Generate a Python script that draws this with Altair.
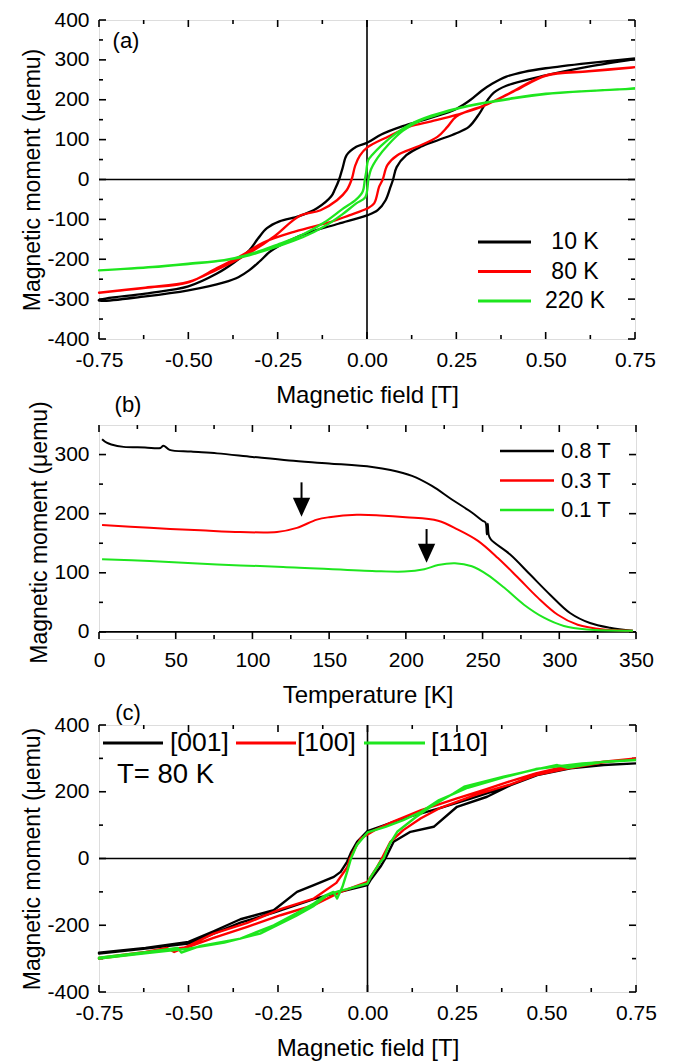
import altair as alt
import pandas as pd

FONT = "Liberation Sans"
BLACK, RED, GREEN = "#000000", "#ff0000", "#1ee61e"

# ---------------- panel (a): hysteresis at three temperatures ----------------
A_NAMES = ["10 K", "80 K", "220 K"]
A_COLORS = [BLACK, RED, GREEN]

A10_DESC_H = [0.75, 0.62, 0.5, 0.44, 0.39, 0.35, 0.32, 0.29, 0.25, 0.18, 0.1, 0.04, 0, -0.03, -0.057, -0.068,
              -0.078, -0.09, -0.1, -0.14, -0.19, -0.245, -0.28, -0.305, -0.33, -0.37, -0.42, -0.5, -0.62, -0.75]
A10_DESC_M = [304, 292, 279, 270, 258, 240, 222, 200, 177, 155, 134, 113, 92, 82, 61, 30,
              0, -25, -42, -72, -92, -105, -122, -148, -178, -207, -236, -268, -286, -302]
A10_ASC_H = [-0.75, -0.62, -0.5, -0.4, -0.36, -0.33, -0.3, -0.27, -0.22, -0.16, -0.08, 0, 0.03, 0.052, 0.066,
             0.073, 0.083, 0.11, 0.15, 0.2, 0.25, 0.285, 0.315, 0.338, 0.355, 0.39, 0.5, 0.62, 0.75]
A10_ASC_M = [-304, -293, -278, -258, -245, -228, -205, -180, -154, -132, -111, -90, -77, -52, -18,
             0, 31, 61, 82, 99, 116, 132, 166, 200, 218, 235, 261, 283, 302]

A80_DESC_H = [0.75, 0.62, 0.5, 0.4, 0.32, 0.25, 0.18, 0.12, 0.06, 0, -0.02, -0.033, -0.043, -0.057, -0.084,
              -0.13, -0.19, -0.26, -0.34, -0.42, -0.5, -0.62, -0.75]
A80_DESC_M = [282, 272, 261, 217, 182, 162, 146, 133, 108, 80, 60, 35, 0, -27, -52,
              -77, -92, -143, -190, -226, -257, -271, -284]
A80_ASC_H = [-0.75, -0.62, -0.5, -0.42, -0.35, -0.29, -0.2, -0.1, -0.05, 0, 0.02, 0.034, 0.044, 0.057, 0.085,
             0.14, 0.197, 0.225, 0.25, 0.34, 0.42, 0.5, 0.62, 0.75]
A80_ASC_M = [-284, -272, -258, -222, -190, -158, -130, -106, -90, -73, -60, -18, 0, 36, 61,
             82, 107, 132, 158, 190, 225, 260, 271, 281]

A220_DESC_H = [0.75, 0.6, 0.5, 0.4, 0.33, 0.25, 0.18, 0.12, 0.08, 0.04, 0.015, 0.003, -0.002, -0.006, -0.012,
               -0.03, -0.07, -0.12, -0.18, -0.25, -0.33, -0.4, -0.5, -0.6, -0.75]
A220_DESC_M = [228, 221, 215, 203, 193, 178, 160, 138, 115, 85, 62, 48, 20, 0, -30,
               -50, -75, -108, -138, -163, -188, -202, -211, -219, -228]
A220_ASC_H = [-0.75, -0.6, -0.5, -0.4, -0.33, -0.25, -0.18, -0.12, -0.07, -0.03, -0.005, 0.004, 0.011, 0.03,
              0.06, 0.1, 0.15, 0.2, 0.25, 0.33, 0.4, 0.5, 0.6, 0.75]
A220_ASC_M = [-228, -220, -212, -203, -190, -168, -145, -118, -88, -60, -45, 0, 25, 55,
              88, 122, 148, 163, 177, 192, 202, 214, 221, 228]

FIELD_TICKS = [-0.75, -0.5, -0.25, 0, 0.25, 0.5, 0.75]
FIELD_MINOR = [-0.625, -0.375, -0.125, 0.125, 0.375, 0.625]
A_YTICKS = [-400, -300, -200, -100, 0, 100, 200, 300, 400]
A_YMINOR = [-350, -250, -150, -50, 50, 150, 250, 350]

# ---------------- panel (b): moment vs temperature ----------------
B_NAMES = ["0.8 T", "0.3 T", "0.1 T"]
B_COLORS = [BLACK, RED, GREEN]
B08_T = [2, 5, 8, 16, 30, 40, 42, 46, 60, 77, 100, 124, 150, 178, 190, 204, 217, 230, 243, 250,
         251.9, 252.8, 253.4, 254, 255.5, 268, 281, 294, 307, 320, 333, 348]
B08_M = [326, 320, 317, 313, 312, 311, 315, 308, 305, 302, 296, 290, 285, 279, 274, 264, 247, 224, 202, 188,
         185, 165, 183, 164, 156, 131, 97, 63, 32, 15, 7, 2]
B03_T = [2, 33, 66, 92, 116, 129, 142, 150, 168, 183, 200, 221, 234, 247, 260, 273, 286, 299, 312, 329, 348]
B03_M = [181, 176, 172, 169, 169, 176, 190, 194, 198, 197, 194, 188, 173, 154, 125, 92, 58, 29, 12, 4, 2]
B01_T = [2, 33, 77, 120, 178, 199, 212, 221, 232, 243, 253, 264, 277, 290, 303, 318, 348]
B01_M = [123, 120, 114, 110, 103, 102, 106, 113, 116, 111, 97, 75, 46, 24, 10, 4, 2]

ARROW_T = [132, 213.5]
ARROW_TAIL = [253, 174]
ARROW_HEAD = [211, 133]

B_XTICKS = [0, 50, 100, 150, 200, 250, 300, 350]
B_XMINOR = [25, 75, 125, 175, 225, 275, 325]
B_YTICKS = [0, 100, 200, 300]
B_YMINOR = [50, 150, 250]

# ---------------- panel (c): three crystal directions at 80 K ----------------
C_NAMES = ["[001]", "[100]", "[110]"]
C_COLORS = [BLACK, RED, GREEN]

C001_DESC_H = [0.75, 0.66, 0.57, 0.47, 0.38, 0.29, 0.2, 0.1, 0.04, 0, -0.029, -0.045, -0.057, -0.075, -0.094,
               -0.15, -0.197, -0.262, -0.355, -0.43, -0.5, -0.62, -0.75]
C001_DESC_M = [285, 280, 272, 250, 212, 180, 150, 120, 97, 82, 50, 20, -10, -40, -55,
               -80, -100, -155, -182, -218, -250, -268, -282]
C001_ASC_H = [-0.75, -0.62, -0.5, -0.43, -0.355, -0.262, -0.15, -0.077, 0, 0.01, 0.036, 0.05, 0.073, 0.12,
              0.185, 0.25, 0.334, 0.4, 0.474, 0.567, 0.66, 0.75]
C001_ASC_M = [-285, -270, -255, -225, -192, -162, -122, -100, -80, -62, -25, 0, 50, 80,
              95, 155, 185, 220, 250, 270, 280, 285]

C100_DESC_H = [0.75, 0.66, 0.55, 0.47, 0.4, 0.33, 0.25, 0.15, 0.07, 0.02, 0, -0.019, -0.035, -0.049, -0.057,
               -0.087, -0.15, -0.243, -0.336, -0.43, -0.5, -0.54, -0.56, -0.62, -0.75]
C100_DESC_M = [300, 290, 275, 255, 232, 207, 180, 145, 110, 85, 72, 60, 30, 0, -27,
               -73, -120, -152, -193, -225, -262, -280, -268, -280, -298]
C100_ASC_H = [-0.75, -0.62, -0.5, -0.43, -0.336, -0.243, -0.15, -0.075, 0, 0.008, 0.027, 0.04, 0.064, 0.1,
              0.148, 0.2, 0.3, 0.4, 0.47, 0.55, 0.66, 0.75]
C100_ASC_M = [-300, -282, -265, -238, -205, -170, -140, -100, -70, -57, -25, 0, 50, 85,
              120, 150, 190, 222, 250, 268, 288, 300]

C110_DESC_H = [0.75, 0.6, 0.47, 0.38, 0.28, 0.2, 0.15, 0.1, 0.05, 0, -0.03, -0.046, -0.057, -0.07, -0.085,
               -0.095, -0.12, -0.15, -0.2, -0.262, -0.355, -0.466, -0.52, -0.53, -0.615, -0.75]
C110_DESC_M = [295, 285, 268, 243, 212, 175, 140, 115, 95, 78, 40, 0, -40, -85, -120,
               -100, -112, -135, -165, -200, -240, -262, -282, -268, -280, -297]
C110_ASC_H = [-0.75, -0.615, -0.5, -0.4, -0.3, -0.2, -0.15, -0.113, -0.08, -0.057, 0, 0.008, 0.036, 0.045,
              0.06, 0.083, 0.13, 0.176, 0.24, 0.27, 0.38, 0.474, 0.53, 0.56, 0.66, 0.75]
C110_ASC_M = [-300, -283, -270, -252, -225, -172, -142, -110, -98, -92, -75, -57, -10, 0,
              40, 80, 120, 155, 195, 215, 245, 268, 280, 272, 290, 295]

C_YTICKS = [-400, -200, 0, 200, 400]
C_YMINOR = [-300, -100, 100, 300]


def curves_frame(names, curves):
    rows = []
    for name, parts in zip(names, curves):
        xs, ys = [], []
        for k in range(0, len(parts), 2):
            xs += parts[k]
            ys += parts[k + 1]
        for i, (a, b) in enumerate(zip(xs, ys)):
            rows.append({"s": name, "x": a, "y": b, "i": i})
    return pd.DataFrame(rows)


NEG_FMT = "(datum.value < 0 ? '-' : '') + format(abs(datum.value), '{f}')"


def make_axis(title, values, fmt, orient, title_pad):
    return alt.Axis(title=title, values=values, labelExpr=NEG_FMT.format(f=fmt), orient=orient,
                    ticks=False, tickSize=0, domain=False, grid=False, labelPadding=10,
                    titlePadding=title_pad, labelFontSize=21, titleFontSize=23 if orient == "left" else 24,
                    labelFont=FONT, titleFont=FONT, labelColor="black", titleColor="black",
                    titleFontWeight="normal", labelFlush=False, labelOverlap=False)


def panel(df, names, colors, xdom, ydom, W, H, xtitle, xticks, xminor, yticks, yminor, xfmt,
          sw, vline, xtitle_pad, interp):
    xs = alt.Scale(domain=xdom, nice=False, zero=False)
    ys = alt.Scale(domain=ydom, nice=False, zero=False)
    xax = make_axis(xtitle, xticks, xfmt, "bottom", xtitle_pad)
    yax = make_axis("Magnetic moment (μemu)", yticks, "d", "left", 2)

    def X(f):
        return alt.X(f, type="quantitative", scale=xs, axis=xax)

    def Y(f):
        return alt.Y(f, type="quantitative", scale=ys, axis=yax)

    layers = []
    # zero lines
    one = pd.DataFrame({"z": [0]})
    layers.append(alt.Chart(one).mark_rule(color="black", strokeWidth=1.6).encode(y=Y("z")))
    if vline:
        layers.append(alt.Chart(one).mark_rule(color="black", strokeWidth=1.6).encode(x=X("z")))
    # inward ticks on all four sides
    for vals, L in ((xticks, 7), (xminor, 4)):
        d = pd.DataFrame({"v": vals})
        layers.append(alt.Chart(d).mark_rule(color="black", strokeWidth=1.6).encode(
            x=X("v"), y=alt.value(H), y2=alt.value(H - L)))
        layers.append(alt.Chart(d).mark_rule(color="black", strokeWidth=1.6).encode(
            x=X("v"), y=alt.value(0), y2=alt.value(L)))
    for vals, L in ((yticks, 7), (yminor, 4)):
        d = pd.DataFrame({"v": vals})
        layers.append(alt.Chart(d).mark_rule(color="black", strokeWidth=1.6).encode(
            y=Y("v"), x=alt.value(0), x2=alt.value(L)))
        layers.append(alt.Chart(d).mark_rule(color="black", strokeWidth=1.6).encode(
            y=Y("v"), x=alt.value(W), x2=alt.value(W - L)))
    # data curves
    layers.append(alt.Chart(df).mark_line(strokeWidth=sw, strokeJoin="round", interpolate=interp).encode(
        x=X("x"), y=Y("y"),
        color=alt.Color("s:N", scale=alt.Scale(domain=names, range=colors), legend=None),
        detail="s:N", order="i:Q"))
    return layers, X, Y


def text_layer(txt, x, y, size, align="left"):
    d = pd.DataFrame({"t": [txt]})
    return alt.Chart(d).mark_text(align=align, baseline="middle", fontSize=size, font=FONT,
                                  color="black").encode(text="t:N", x=alt.value(x), y=alt.value(y))


def legend_rule(x1, x2, y, color, w):
    d = pd.DataFrame({"k": [0]})
    return alt.Chart(d).mark_rule(color=color, strokeWidth=w).encode(
        x=alt.value(x1), x2=alt.value(x2), y=alt.value(y))


# ---- build (a)
WA, HA = 536, 319
dfa = curves_frame(A_NAMES, [
    (A10_DESC_H, A10_DESC_M, A10_ASC_H, A10_ASC_M),
    (A80_DESC_H, A80_DESC_M, A80_ASC_H, A80_ASC_M),
    (A220_DESC_H, A220_DESC_M, A220_ASC_H, A220_ASC_M)])
la, _, _ = panel(dfa, A_NAMES, A_COLORS, [-0.75, 0.75], [-400, 400], WA, HA, "Magnetic field [T]",
                 FIELD_TICKS, FIELD_MINOR, A_YTICKS, A_YMINOR, ".2f", 2.3, True, 13, "catmull-rom")
la.append(text_layer("(a)", 27, 21, 22, "center"))
for i, (n, c) in enumerate(zip(A_NAMES, A_COLORS)):
    yy = 222 + i * 29.5
    la.append(legend_rule(379, 432, yy, c, 3))
    la.append(text_layer(n, 476, yy, 23, "center"))
chart_a = alt.layer(*la).properties(width=WA, height=HA)

# ---- build (b)
WB, HB = 537, 214
dfb = curves_frame(B_NAMES, [(B08_T, B08_M), (B03_T, B03_M), (B01_T, B01_M)])
lb, XB, YB = panel(dfb, B_NAMES, B_COLORS, [0, 350], [-12, 350], WB, HB, "Temperature [K]",
                   B_XTICKS, B_XMINOR, B_YTICKS, B_YMINOR, "d", 2.0, False, 13, "catmull-rom")
arr = pd.DataFrame({"t": ARROW_T, "tail": ARROW_TAIL, "head": ARROW_HEAD})
lb.append(alt.Chart(arr).mark_rule(color="black", strokeWidth=2).encode(
    x=XB("t"), y=YB("tail"), y2="head:Q"))
lb.append(alt.Chart(arr).mark_point(shape="M-1,-1.1L1,-1.1L0,1.1Z", filled=True, size=300,
                                    color="black", opacity=1).encode(x=XB("t"), y=YB("head")))
lb.append(text_layer("(b)", 29, -20, 22, "center"))
for i, (n, c) in enumerate(zip(B_NAMES, B_COLORS)):
    yy = 26 + i * 29.5
    lb.append(legend_rule(401, 455, yy, c, 2.5))
    lb.append(text_layer(n, 462, yy, 22, "left"))
chart_b = alt.layer(*lb).properties(width=WB, height=HB)

# ---- build (c)
WC, HC = 537, 267
dfc = curves_frame(C_NAMES, [
    (C001_DESC_H, C001_DESC_M, C001_ASC_H, C001_ASC_M),
    (C100_DESC_H, C100_DESC_M, C100_ASC_H, C100_ASC_M),
    (C110_DESC_H, C110_DESC_M, C110_ASC_H, C110_ASC_M)])
lc, _, _ = panel(dfc, C_NAMES, C_COLORS, [-0.75, 0.75], [-400, 400], WC, HC, "Magnetic field [T]",
                 FIELD_TICKS, FIELD_MINOR, C_YTICKS, C_YMINOR, ".2f", 2.4, True, 13, "linear")
lc.append(text_layer("(c)", 29, -12, 22, "center"))
C_LEG_X = [(4, 64, 71), (137, 197, 198), (265, 326, 332)]
for (x1, x2, xt), n, c in zip(C_LEG_X, C_NAMES, C_COLORS):
    lc.append(legend_rule(x1, x2, 18, c, 3))
    lc.append(text_layer(n, xt, 18, 26.5, "left"))
lc.append(text_layer("T= 80 K", 18, 50, 27.5, "left"))
chart_c = alt.layer(*lc).properties(width=WC, height=HC)

chart = alt.vconcat(chart_a, chart_b, chart_c, spacing=86, bounds="flush").properties(
    padding={"left": 13, "top": 0, "right": 5, "bottom": 5}
).configure_view(stroke="black", strokeWidth=2).configure(font=FONT)

chart.save("out.html", embed_options={"renderer": "svg", "actions": False})
